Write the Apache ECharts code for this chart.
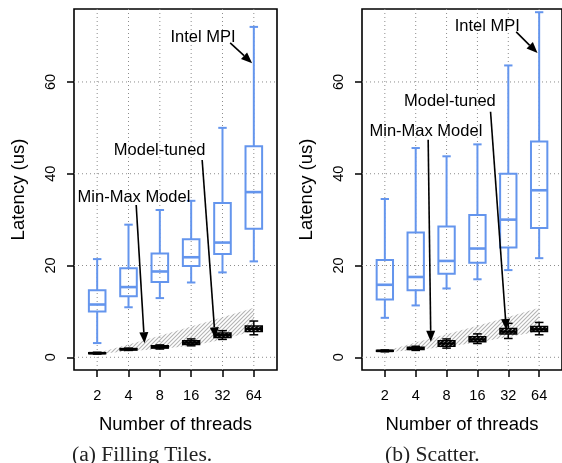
<!DOCTYPE html>
<html><head><meta charset="utf-8">
<script src="https://cdn.jsdelivr.net/npm/echarts@6/dist/echarts.min.js"></script>
<style>html,body{margin:0;padding:0;background:#fff}#c{width:562px;height:463px}</style>
</head><body><div id="c"></div>
<script>
// ---------- data ----------
const threads = ['2', '4', '8', '16', '32', '64'];
const xPos = [1, 2, 3, 4, 5, 6];
const yTicks = [0, 20, 40, 60];

// boxes: [lower whisker, Q1, median, Q3, upper whisker]
const mpiTiles = [[3.1, 10.0, 11.5, 14.6, 21.4], [10.9, 13.3, 15.3, 19.4, 28.9], [12.9, 16.4, 18.7, 22.6, 32.1], [16.3, 19.9, 21.8, 25.7, 34.1], [18.5, 22.5, 25.0, 33.6, 50.0], [20.9, 28.0, 36.0, 46.0, 72.0]];
const tunedTiles = [[0.7, 0.8, 0.9, 1.0, 1.1], [1.5, 1.6, 1.75, 1.9, 2.0], [1.8, 2.0, 2.2, 2.5, 2.7], [2.5, 2.8, 3.2, 3.6, 4.0], [3.9, 4.3, 4.8, 5.3, 5.8], [4.9, 5.6, 6.2, 6.8, 7.9]];
const bandLoTiles = [0.7, 1.3, 1.8, 2.5, 3.8, 5.8];
const bandHiTiles = [0.95, 2.8, 4.7, 6.7, 8.7, 10.8];

const mpiScatter = [[8.6, 12.6, 15.8, 21.2, 34.5], [11.3, 14.6, 17.5, 27.2, 45.6], [15.0, 18.2, 21.0, 28.5, 43.8], [17.0, 20.6, 23.7, 31.0, 46.4], [19.0, 23.9, 30.0, 40.0, 63.6], [21.6, 28.2, 36.4, 47.0, 75.2]];
const tunedScatter = [[1.2, 1.3, 1.4, 1.5, 1.6], [1.5, 1.7, 1.9, 2.2, 2.4], [2.0, 2.4, 3.0, 3.6, 4.0], [3.0, 3.4, 3.9, 4.5, 5.1], [4.1, 5.1, 5.6, 6.3, 7.4], [4.9, 5.6, 6.1, 6.7, 7.6]];
const bandLoScatter = [1.1, 1.6, 2.3, 3.2, 4.4, 5.6];
const bandHiScatter = [1.3, 3.2, 5.0, 6.9, 8.8, 10.8];

// annotations (data coordinates)
const annLabels = ['Intel MPI', 'Model-tuned', 'Min-Max Model'];
const annTextTiles = [[4.38, 69.7], [2.995, 45.0], [2.175, 34.8]];
const annFromTiles = [[5.245, 68.5], [4.351, 43.0], [2.245, 33.2]];
const annToTiles = [[5.947, 64.1], [4.766, 4.14], [2.51, 3.05]];
const annTextScatter = [[4.32, 72.1], [3.107, 55.7], [2.331, 49.3]];
const annFromScatter = [[5.255, 70.9], [4.425, 53.5], [2.404, 47.4]];
const annToScatter = [[5.947, 66.3], [4.936, 5.95], [2.49, 3.4]];

const captions = ['(a) Filling Tiles.', '(b) Scatter.'];

// ---------- styling helpers ----------
const FONT = '"Liberation Sans", Arial, Helvetica, sans-serif';
const SERIF = '"Liberation Serif", "Times New Roman", serif';
const BLUE = '#6495ED';

function makeHatch(color, lw, size) {
  const c = document.createElement('canvas');
  c.width = size; c.height = size;
  const g = c.getContext('2d');
  g.strokeStyle = color; g.lineWidth = lw;
  g.beginPath();
  g.moveTo(-1, size + 1); g.lineTo(size + 1, -1);
  g.moveTo(-1, 1); g.lineTo(1, -1);
  g.moveTo(size - 1, size + 1); g.lineTo(size + 1, size - 1);
  g.stroke();
  return c;
}
const bandPattern = { image: makeHatch('#b4b4b4', 1.1, 4), repeat: 'repeat' };
const boxPattern = { image: makeHatch('#000', 1.9, 4), repeat: 'repeat' };

function boxRows(arr) { return arr.map((b, i) => [xPos[i]].concat(b)); }

function boxRender(color, lw, medLw, fill, boxHalf, capHalf) {
  return function (params, api) {
    const x = api.value(0);
    const p = (v) => api.coord([x, v]);
    const lo = p(api.value(1)), q1 = p(api.value(2)), md = p(api.value(3)), q3 = p(api.value(4)), hi = p(api.value(5));
    const left = api.coord([x - boxHalf, 0])[0], right = api.coord([x + boxHalf, 0])[0];
    const cl = api.coord([x - capHalf, 0])[0], cr = api.coord([x + capHalf, 0])[0];
    const cx = lo[0];
    const ls = { stroke: color, lineWidth: lw, fill: null };
    return {
      type: 'group', children: [
        { type: 'line', shape: { x1: cx, y1: q3[1], x2: cx, y2: hi[1] }, style: ls },
        { type: 'line', shape: { x1: cx, y1: q1[1], x2: cx, y2: lo[1] }, style: ls },
        { type: 'line', shape: { x1: cl, y1: hi[1], x2: cr, y2: hi[1] }, style: ls },
        { type: 'line', shape: { x1: cl, y1: lo[1], x2: cr, y2: lo[1] }, style: ls },
        { type: 'rect', shape: { x: left, y: q3[1], width: right - left, height: q1[1] - q3[1] }, style: { stroke: color, lineWidth: lw, fill: fill } },
        { type: 'line', shape: { x1: left, y1: md[1], x2: right, y2: md[1] }, style: { stroke: color, lineWidth: medLw } }
      ]
    };
  };
}

function bandRender(params, api) {
  if (params.dataIndex !== 0) return null;
  const n = params.dataInsideLength;
  const top = [], bot = [];
  for (let i = 0; i < n; i++) {
    const x = api.value(0, i);
    top.push(api.coord([x, api.value(2, i)]));
    bot.push(api.coord([x, api.value(1, i)]));
  }
  return { type: 'polygon', shape: { points: top.concat(bot.reverse()) }, style: { fill: bandPattern, stroke: null } };
}

function gridRender(params, api) {
  const v = api.value(1);
  const kind = api.value(0);
  const ds = { stroke: '#8c8c8c', lineWidth: 1, lineDash: [1, 3] };
  if (kind === 0) {
    const a = api.coord([v, -2.77]), b = api.coord([v, 75.9]);
    return { type: 'line', shape: { x1: a[0], y1: a[1], x2: b[0], y2: b[1] }, style: ds };
  } else {
    const a = api.coord([0.26, v]), b = api.coord([6.74, v]);
    return { type: 'line', shape: { x1: a[0], y1: a[1], x2: b[0], y2: b[1] }, style: ds };
  }
}

function annRender(texts, froms, tos) {
  return function (params, api) {
    const i = params.dataIndex;
    const t = api.coord(texts[i]);
    const f = api.coord(froms[i]);
    const e = api.coord(tos[i]);
    const dx = e[0] - f[0], dy = e[1] - f[1];
    const L = Math.sqrt(dx * dx + dy * dy);
    const ux = dx / L, uy = dy / L;
    const HL = 11, HW = 4.5;
    const bx = e[0] - ux * HL, by = e[1] - uy * HL;
    return {
      type: 'group', children: [
        { type: 'line', shape: { x1: f[0], y1: f[1], x2: bx, y2: by }, style: { stroke: '#000', lineWidth: 1.6 } },
        { type: 'polygon', shape: { points: [[e[0], e[1]], [bx - uy * HW, by + ux * HW], [bx + uy * HW, by - ux * HW]] }, style: { fill: '#000' } },
        { type: 'text', style: { text: annLabels[i], x: t[0], y: t[1], fill: '#000', fontSize: 16.5, fontFamily: FONT, align: 'center', verticalAlign: 'middle' } }
      ]
    };
  };
}

function xAx(gi) {
  return {
    type: 'value', gridIndex: gi, min: 0.26, max: 6.74,
    axisLine: { show: false, onZero: false },
    splitLine: { show: false },
    axisTick: { show: true, customValues: xPos, length: 7, lineStyle: { color: '#000', width: 1.5 } },
    axisLabel: { customValues: xPos, formatter: (v) => threads[Math.round(v) - 1], margin: 18, color: '#000', fontSize: 14.5, fontFamily: FONT },
    name: 'Number of threads', nameLocation: 'middle', nameGap: 45,
    nameTextStyle: { color: '#000', fontSize: 18.5, fontFamily: FONT }
  };
}
function yAx(gi) {
  return {
    type: 'value', gridIndex: gi, min: -2.77, max: 75.9,
    axisLine: { show: false, onZero: false },
    splitLine: { show: false },
    axisTick: { show: true, customValues: yTicks, length: 7, lineStyle: { color: '#000', width: 1.5 } },
    axisLabel: { customValues: yTicks, rotate: 90, margin: 16, color: '#000', fontSize: 14.5, fontFamily: FONT },
    name: 'Latency (us)', nameLocation: 'middle', nameGap: 46,
    nameTextStyle: { color: '#000', fontSize: 18.5, fontFamily: FONT }
  };
}

const gridRows = xPos.map(v => [0, v]).concat(yTicks.map(v => [1, v]));

function panelSeries(gi, mpi, tuned, lo, hi, texts, froms, tos) {
  return [
    { type: 'custom', xAxisIndex: gi, yAxisIndex: gi, z: 1, silent: true, renderItem: gridRender, data: gridRows, encode: { x: -1, y: -1 } },
    { type: 'custom', xAxisIndex: gi, yAxisIndex: gi, z: 2, silent: true, renderItem: bandRender, data: xPos.map((x, i) => [x, lo[i], hi[i]]), encode: { x: 0, y: [1, 2] } },
    { type: 'custom', xAxisIndex: gi, yAxisIndex: gi, z: 3, silent: true, renderItem: boxRender('#000', 1.5, 2.5, boxPattern, 0.27, 0.14), data: boxRows(tuned), encode: { x: 0, y: [1, 2, 3, 4, 5] } },
    { type: 'custom', xAxisIndex: gi, yAxisIndex: gi, z: 4, silent: true, renderItem: boxRender(BLUE, 2, 2.6, null, 0.265, 0.135), data: boxRows(mpi), encode: { x: 0, y: [1, 2, 3, 4, 5] } },
    { type: 'custom', xAxisIndex: gi, yAxisIndex: gi, z: 5, silent: true, renderItem: annRender(texts, froms, tos), data: annLabels.map((l, i) => [i]), encode: { x: -1, y: -1 } }
  ];
}

const chart = echarts.init(document.getElementById('c'), null, { renderer: 'canvas' });
chart.setOption({
  animation: false,
  backgroundColor: '#fff',
  title: [
    { text: captions[0], left: 72, top: 444, padding: 0, textStyle: { fontFamily: SERIF, fontSize: 21.6, fontWeight: 'normal', color: '#222' } },
    { text: captions[1], left: 385, top: 444, padding: 0, textStyle: { fontFamily: SERIF, fontSize: 21.6, fontWeight: 'normal', color: '#222' } }
  ],
  grid: [
    { left: 74, top: 9, width: 203, height: 361, show: true, borderColor: '#000', borderWidth: 1.6, backgroundColor: 'transparent' },
    { left: 362, top: 9, width: 203, height: 361, show: true, borderColor: '#000', borderWidth: 1.6, backgroundColor: 'transparent' }
  ],
  xAxis: [xAx(0), xAx(1)],
  yAxis: [yAx(0), yAx(1)],
  series: panelSeries(0, mpiTiles, tunedTiles, bandLoTiles, bandHiTiles, annTextTiles, annFromTiles, annToTiles)
    .concat(panelSeries(1, mpiScatter, tunedScatter, bandLoScatter, bandHiScatter, annTextScatter, annFromScatter, annToScatter))
});
</script>
</body></html>
